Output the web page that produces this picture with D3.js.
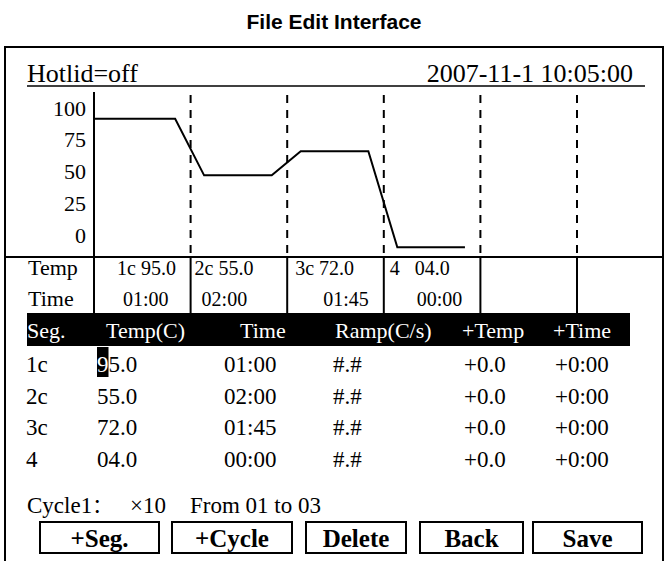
<!DOCTYPE html>
<html>
<head>
<meta charset="utf-8">
<script src="https://cdn.jsdelivr.net/npm/d3@7"></script>
<style>
body { margin: 0; background: #fff; }
text { font-family: "Liberation Serif", "Times New Roman", serif; fill: #000; white-space: pre; }
</style>
</head>
<body>
<div id="chart"></div>
<script>
// screen content
var title = "File Edit Interface";
var hotlid = "Hotlid=off";
var stamp = "2007-11-1 10:05:00";
var segNames = ["1c", "2c", "3c", "4"];
var segTemps = [95.0, 55.0, 72.0, 4.0];
var segTimes = ["01:00", "02:00", "01:45", "00:00"];
var segRamps = ["#.#", "#.#", "#.#", "#.#"];
var plusTemps = ["+0.0", "+0.0", "+0.0", "+0.0"];
var plusTimes = ["+0:00", "+0:00", "+0:00", "+0:00"];
var yTicks = [0, 25, 50, 75, 100];
var colHeads = ["Seg.", "Temp(C)", "Time", "Ramp(C/s)", "+Temp", "+Time"];
var cycleText = ["Cycle1", "×10", "From 01 to 03"];
var buttons = ["+Seg.", "+Cycle", "Delete", "Back", "Save"];
var slots = 5;

var width = 664,
    height = 561;

var svg = d3.select("#chart").append("svg")
    .attr("width", width)
    .attr("height", height)

var fmt = d3.format("04.1f");

// title
svg.append("text")
    .attr("x", width / 2 + 2).attr("y", 29)
    .attr("text-anchor", "middle")
    .style("font-family", "'Liberation Sans', Arial, sans-serif")
    .style("font-weight", "bold")
    .style("font-size", "21px")
    .text(title)

// frame
svg.append("path")
    .attr("d", "M5,561V47H663V561")
    .attr("fill", "none").attr("stroke", "#000").attr("stroke-width", 2)

// header line
svg.append("text").attr("x", 27).attr("y", 82).style("font-size", "26px").text(hotlid)
svg.append("text").attr("x", 633).attr("y", 82).attr("text-anchor", "end").style("font-size", "26px").text(stamp)
svg.append("line").attr("x1", 27).attr("x2", 645).attr("y1", 86).attr("y2", 86)
    .attr("stroke", "#000").attr("stroke-width", 1.6)

var x = d3.scaleLinear().domain([0, slots]).range([94, 577]);
var yLine = d3.scaleLinear().domain([0, 100]).range([253, 111.8]);
var yLab = d3.scaleLinear().domain([0, 100]).range([235, 108]);

// slot dividers: dashed in the plot, solid in the small table
var divs = d3.range(1, slots + 1);
svg.selectAll(".dash").data(divs).enter().append("line")
    .attr("class", "dash")
    .attr("x1", function (d) { return x(d); }).attr("x2", function (d) { return x(d); })
    .attr("y1", 95).attr("y2", 257)
    .attr("stroke", "#000").attr("stroke-width", 2).attr("stroke-dasharray", "8,7")
svg.selectAll(".solid").data(d3.range(0, slots + 1)).enter().append("line")
    .attr("class", "solid")
    .attr("x1", function (d) { return x(d); }).attr("x2", function (d) { return x(d); })
    .attr("y1", function (d) { return d == 0 ? 92 : 257; }).attr("y2", 313)
    .attr("stroke", "#000").attr("stroke-width", 2)

svg.append("line").attr("x1", 5).attr("x2", 663).attr("y1", 257).attr("y2", 257)
    .attr("stroke", "#000").attr("stroke-width", 2)

// y labels
var axis = svg.append("g")
    .attr("transform", "translate(" + (x(0) - 8) + ",0)")
    .call(d3.axisLeft(yLab).tickValues(yTicks).tickSize(0).tickPadding(0))
axis.select(".domain").remove()
axis.selectAll("text")
    .style("font-family", "'Liberation Serif', serif")
    .style("font-size", "22px")

// temperature profile: hold inside each slot, ramp across the divider
var pts = [];
segTemps.forEach(function (t, i) {
    pts.push([i == 0 ? 0 : i + 0.14, t]);
    pts.push([i + 0.84, t]);
});
svg.append("path")
    .datum(pts)
    .attr("fill", "none").attr("stroke", "#000").attr("stroke-width", 2)
    .attr("d", d3.line()
        .x(function (d) { return x(d[0]); })
        .y(function (d) { return yLine(d[1]); }))

// small table under the plot
svg.append("text").attr("x", 28).attr("y", 275).style("font-size", "22px").text("Temp")
svg.append("text").attr("x", 28).attr("y", 306).style("font-size", "22px").text("Time")
var tempOff = [23, 4, 8, 6],
    timeOff = [29, 11, 36, 33];
segNames.forEach(function (n, i) {
    svg.append("text").attr("x", x(i) + tempOff[i]).attr("y", 275).style("font-size", "20px")
        .text(n + (n.length == 1 ? "   " : " ") + fmt(segTemps[i]))
    svg.append("text").attr("x", x(i) + timeOff[i]).attr("y", 306).style("font-size", "20px")
        .text(segTimes[i])
});

// segment list
var colX = [26, 97, 224, 333, 464, 555];
var headX = [27, 106, 240, 335, 462, 553];
svg.append("rect").attr("x", 27).attr("y", 313).attr("width", 603).attr("height", 33).attr("fill", "#000")
svg.selectAll(".head").data(colHeads).enter().append("text")
    .attr("class", "head")
    .attr("x", function (d, i) { return headX[i]; }).attr("y", 338)
    .style("font-size", "22px").style("fill", "#fff")
    .text(function (d) { return d; })

var rowY = d3.scaleLinear().domain([0, 1]).range([372, 403.5]);
segNames.forEach(function (n, i) {
    var cells = [n, fmt(segTemps[i]), segTimes[i], segRamps[i], plusTemps[i], plusTimes[i]];
    cells.forEach(function (c, j) {
        var t = svg.append("text").attr("x", colX[j]).attr("y", rowY(i)).style("font-size", "23px");
        if (i == 0 && j == 1) {
            // cursor on the first digit
            t.append("tspan").text(c[0]);
            t.append("tspan").text(c.slice(1));
            var w = t.node().getSubStringLength(0, 1);
            svg.insert("rect", function () { return t.node(); })
                .attr("x", colX[j]).attr("y", 347).attr("width", w).attr("height", 30).attr("fill", "#000")
            t.select("tspan").style("fill", "#fff")
        } else {
            t.text(c);
        }
    });
});

// cycle line
var cycX = [27, 130, 190];
var cyc = svg.selectAll(".cyc").data(cycleText).enter().append("text")
    .attr("class", "cyc")
    .attr("x", function (d, i) { return cycX[i]; }).attr("y", 513)
    .style("font-size", "23px")
    .text(function (d) { return d; })
cyc.filter(function (d, i) { return i == 0; }).append("tspan")
    .style("font-family", "'Noto Sans CJK SC', sans-serif")
    .style("font-size", "20px")
    .text("：")

// buttons
var btnX = [[40, 159], [172, 292], [306, 406], [420, 523], [533, 642]];
var btn = svg.selectAll(".btn").data(buttons).enter().append("g").attr("class", "btn")
btn.append("rect")
    .attr("x", function (d, i) { return btnX[i][0]; }).attr("y", 522)
    .attr("width", function (d, i) { return btnX[i][1] - btnX[i][0]; }).attr("height", 31)
    .attr("fill", "none").attr("stroke", "#000").attr("stroke-width", 2)
btn.append("text")
    .attr("x", function (d, i) { return (btnX[i][0] + btnX[i][1]) / 2; }).attr("y", 547)
    .attr("text-anchor", "middle")
    .style("font-size", "25px").style("font-weight", "bold")
    .text(function (d) { return d; })
</script>
</body>
</html>
